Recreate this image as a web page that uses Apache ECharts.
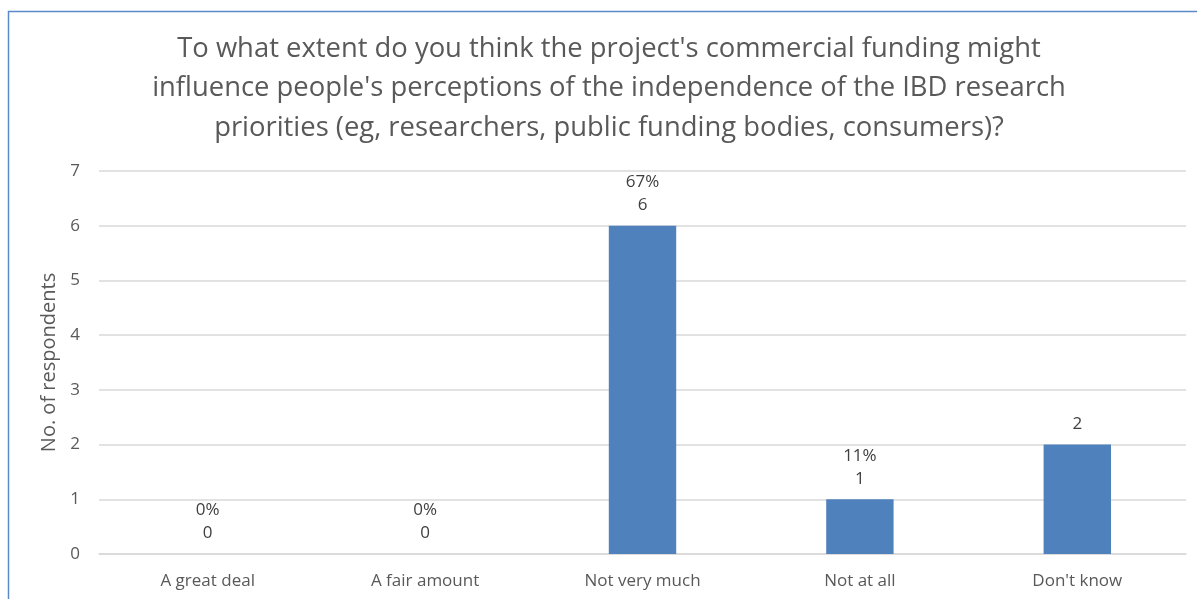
<!DOCTYPE html>
<html><head><meta charset="utf-8">
<script src="https://cdn.jsdelivr.net/npm/echarts@6/dist/echarts.min.js"></script>
<style>html,body{margin:0;padding:0;background:#fff}#c{width:1197px;height:599px}</style>
</head><body><div id="c"></div>
<script>
const categories = ["A great deal", "A fair amount", "Not very much", "Not at all", "Don't know"];
const counts = [0, 0, 6, 1, 2];
const percentLabels = ["0%", "0%", "67%", "11%", null];
const yTicks = [0, 1, 2, 3, 4, 5, 6, 7];
const titleText = "To what extent do you think the project's commercial funding might\ninfluence people's perceptions of the independence of the IBD research\npriorities (eg, researchers, public funding bodies, consumers)?";
const yName = "No. of respondents";

const font = "Open Sans";
const chart = echarts.init(document.getElementById('c'));
chart.setOption({
  animation: false,
  title: {
    text: titleText, left: 604, top: 24, textAlign: 'center',
    textStyle: { fontFamily: font, fontSize: 27.4, fontWeight: 'normal', color: '#595959', lineHeight: 39.5 }
  },
  graphic: [{
    type: 'rect', shape: { x: 8.5, y: 11.5, width: 1400, height: 800 },
    style: { fill: 'none', stroke: '#5B8AC9', lineWidth: 1.5 }, silent: true
  }],
  grid: { left: 99, right: 11, top: 171, bottom: 45 },
  xAxis: {
    type: 'category', data: categories,
    axisTick: { show: false },
    axisLine: { lineStyle: { color: '#D9D9D9', width: 1.5 } },
    axisLabel: { fontFamily: font, fontSize: 17, color: '#595959', margin: 19 }
  },
  yAxis: {
    type: 'value', min: yTicks[0], max: yTicks[yTicks.length - 1], interval: 1,
    name: yName, nameLocation: 'middle', nameGap: 40, nameRotate: 90,
    nameTextStyle: { fontFamily: font, fontSize: 20, color: '#595959' },
    axisLine: { show: false }, axisTick: { show: false },
    axisLabel: { fontFamily: font, fontSize: 17, color: '#595959', margin: 19 },
    splitLine: { lineStyle: { color: '#D9D9D9', width: 1.5 } }
  },
  series: [{
    type: 'bar', data: counts, barWidth: '31%',
    itemStyle: { color: '#4F81BD' },
    label: {
      show: true, position: 'top', distance: 9,
      fontFamily: font, fontSize: 17, color: '#404040', lineHeight: 23, align: 'center',
      formatter: p => percentLabels[p.dataIndex] ? percentLabels[p.dataIndex] + '\n' + p.value : String(p.value)
    }
  }]
});
</script></body></html>
